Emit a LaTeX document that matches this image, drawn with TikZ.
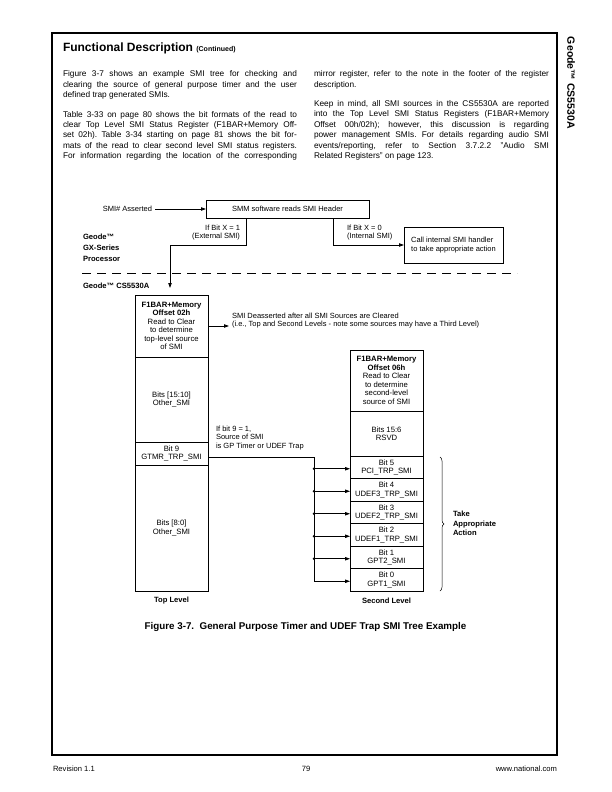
\documentclass[tikz,border=0pt]{standalone}
\usepackage{fontspec}
\setmainfont{Liberation Sans}
\usetikzlibrary{arrows.meta,decorations.pathreplacing}
\newcommand\mybodypar[2]{\parbox[t]{#1}{\fontsize{8.3}{10.4}\selectfont\frenchspacing
  \tolerance=10000 \hbadness=10000 \hyphenpenalty=10000 \parindent=0pt #2}}
\begin{document}
\begin{tikzpicture}[x=1pt,y=-1pt,
  every node/.style={inner sep=0pt, outer sep=0pt},
  body/.style={anchor=base west},
  lbl/.style={font=\fontsize{7.5}{8.5}\selectfont},
  blbl/.style={font=\fontsize{7.6}{11}\selectfont\bfseries},
  cell/.style={draw, line width=0.8pt, minimum width=73pt, anchor=north west, align=center,
    font=\fontsize{7.7}{8.5}\selectfont},
  conn/.style={line width=0.8pt},
  arr/.style={conn, -{Triangle[length=5pt,width=3.4pt]}},
]
\useasboundingbox[fill=white] (0,0) rectangle (611,792);

% page frame
\draw[line width=1.1pt] (52,33) rectangle (557,755);

% header
\node[anchor=base west, font=\fontsize{12}{14}\selectfont\bfseries] (title) at (63,52)
  {Functional Description {\fontsize{7}{8}\selectfont (Continued)}};
\node[anchor=west, rotate=-90, font=\fontsize{10.5}{12}\selectfont\bfseries] (side) at (571,37)
  {Geode™ CS5530A};

% body text
\node[body] (pl1) at (63,77) {\mybodypar{234pt}{Figure 3-7 shows an example SMI tree for checking and\linebreak
  clearing the source of general purpose timer and the user\linebreak
  defined trap generated SMIs.}};
\node[body] (pl2) at (63,117) {\mybodypar{234pt}{\parfillskip=0pt Table 3-33 on page 80 shows the bit formats of the read to\linebreak
  clear Top Level SMI Status Register (F1BAR+Memory Off-\linebreak
  set 02h). Table 3-34 starting on page 81 shows the bit for-\linebreak
  mats of the read to clear second level SMI status registers.\linebreak
  For information regarding the location of the corresponding\par}};
\node[body] (pr1) at (314,77) {\mybodypar{235pt}{mirror register, refer to the note in the footer of the register\linebreak
  description.}};
\node[body] (pr2) at (314,106.5) {\mybodypar{235pt}{Keep in mind, all SMI sources in the CS5530A are reported\linebreak
  into the Top Level SMI Status Registers (F1BAR+Memory\linebreak
  Offset 00h/02h); however, this discussion is regarding\linebreak
  power management SMIs. For details regarding audio SMI\linebreak
  events/reporting, refer to Section 3.7.2.2 "Audio SMI\linebreak
  Related Registers" on page 123.}};

% top of diagram
\node[lbl, anchor=east, inner xsep=3pt] (smi) at (155,209) {SMI\# Asserted};
\node[draw, conn, lbl, minimum width=163pt, minimum height=18pt, anchor=north west] (smm) at (206,200)
  {SMM software reads SMI Header};
\draw[arr] (smi.east) -- (smm.west);

\node[lbl, anchor=east, align=right] (ifx1) at (240,232.5) {If Bit X = 1\\(External SMI)};
\node[lbl, anchor=west, align=left] (ifx0) at (347,232.5) {If Bit X = 0\\(Internal SMI)};

\node[draw, conn, lbl, minimum width=99pt, minimum height=36pt, anchor=north west, align=left] (call) at (404,227)
  {Call internal SMI handler\\to take appropriate action};

\coordinate (xl) at (246,245);
\coordinate (xa) at (170,245);
\coordinate (xend) at (170,288);
\draw[arr] (smm.south -| xl) -- (xl) -- (xa) -- (xend);
\coordinate (xr) at (333,245);
\draw[arr] (smm.south -| xr) -- (xr) -- (call.west);

\node[blbl, anchor=west, align=left] (gx) at (83,247.5) {Geode™\\GX-Series\\Processor};
\draw[conn, dash pattern=on 9pt off 6pt] (82,273) -- (517,273);
\node[blbl, anchor=west] (cs) at (83,286) {Geode™ CS5530A};

% top level register
\node[cell, minimum height=62pt] (th) at (135,295)
  {\textbf{F1BAR+Memory}\\\textbf{Offset 02h}\\Read to Clear\\to determine\\top-level source\\of SMI};
\node[cell, minimum height=85pt] (t1510) at (135,357) {Bits [15:10]\\Other\_SMI};
\node[cell, minimum height=23pt] (tb9) at (135,442) {Bit 9\\GTMR\_TRP\_SMI};
\node[cell, minimum height=126pt] (t80) at (135,465) {Bits [8:0]\\Other\_SMI};
\node[blbl] (tl) at (171.5,600.5) {Top Level};

\node[lbl, anchor=west, align=left, inner xsep=3pt] (sd) at (229,320.5)
  {SMI Deasserted after all SMI Sources are Cleared\\(i.e., Top and Second Levels - note some sources may have a Third Level)};
\draw[arr] (th.east) -- (sd.west |- th.east);

\node[lbl, anchor=west, align=left] (if9) at (216,438) {If bit 9 = 1,\\Source of SMI\\is GP Timer or UDEF Trap};

% second level register
\node[cell, minimum height=61pt] (sh) at (350,350)
  {\textbf{F1BAR+Memory}\\\textbf{Offset 06h}\\Read to Clear\\to determine\\second-level\\source of SMI};
\node[cell, minimum height=45pt] (rsvd) at (350,411) {Bits 15:6\\RSVD};
\node[cell, minimum height=22.5pt] (b5) at (350,456) {Bit 5\\PCI\_TRP\_SMI};
\node[cell, minimum height=22.5pt] (b4) at (350,478.5) {Bit 4\\UDEF3\_TRP\_SMI};
\node[cell, minimum height=22.5pt] (b3) at (350,501) {Bit 3\\UDEF2\_TRP\_SMI};
\node[cell, minimum height=22.5pt] (b2) at (350,523.5) {Bit 2\\UDEF1\_TRP\_SMI};
\node[cell, minimum height=22.5pt] (b1) at (350,546) {Bit 1\\GPT2\_SMI};
\node[cell, minimum height=22.5pt] (b0) at (350,568.5) {Bit 0\\GPT1\_SMI};
\node[blbl] (sl) at (386.5,600.5) {Second Level};

% bus
\coordinate (busx) at (314,0);
\draw[arr] ([yshift=-3.5pt]tb9.east) -| ([yshift=-1.5pt]b0.west -| busx) -- ([yshift=-1.5pt]b0.west);
\foreach \n in {b5,b4,b3,b2,b1} {
  \draw[arr] ([yshift=-1.5pt]\n.west -| busx) -- ([yshift=-1.5pt]\n.west);
  \fill ([yshift=-1.5pt]\n.west -| busx) circle (1.4pt);
}

% brace
\coordinate (brt) at (440,457);
\coordinate (brb) at (440,591);
\draw[line width=0.5pt, decorate, decoration={brace, amplitude=4pt}] (brt) -- (brb);
\node[blbl, anchor=west, align=left, font=\fontsize{7.6}{9.5}\selectfont\bfseries] (take) at (453,523.5)
  {Take\\Appropriate\\Action};

% caption
\node[font=\fontsize{9.8}{12}\selectfont\bfseries] (cap) at (305.5,627)
  {Figure 3-7.\ \ General Purpose Timer and UDEF Trap SMI Tree Example};

% footer
\node[anchor=base west, font=\fontsize{7.6}{9}\selectfont] (rev) at (53,771) {Revision 1.1};
\node[anchor=base, font=\fontsize{7.6}{9}\selectfont] (pg) at (306,771) {79};
\node[anchor=base east, font=\fontsize{7.6}{9}\selectfont] (web) at (557,771) {www.national.com};
\end{tikzpicture}
\end{document}
